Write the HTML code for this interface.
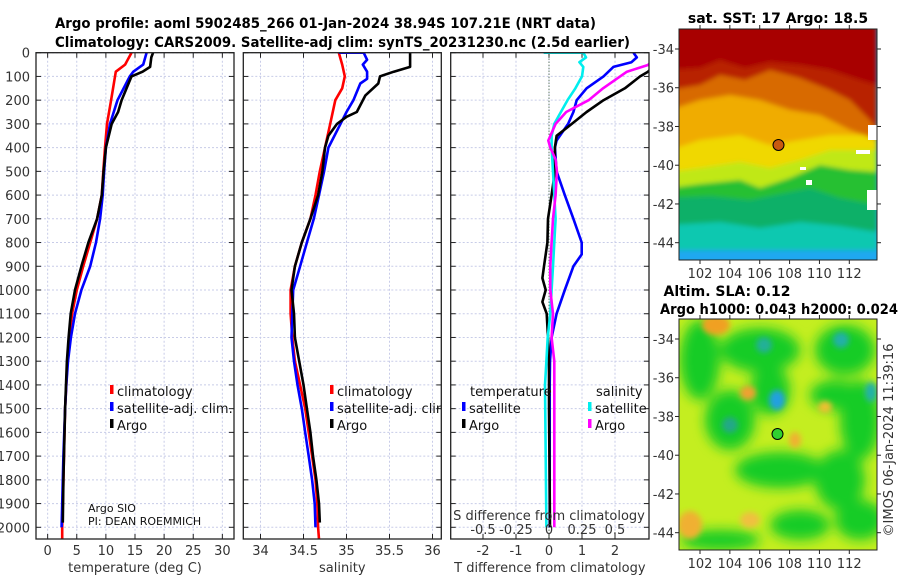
<!DOCTYPE html>
<html><head><meta charset="utf-8">
<style>
html,body{margin:0;padding:0;background:#fff;}
svg{display:block;font-family:"DejaVu Sans","Liberation Sans",sans-serif;}
.tk{font-size:13px;fill:#333;}
.lg{font-size:13px;fill:#111;}
.ttl{font-size:14px;font-weight:bold;fill:#000;}
</style></head>
<body>
<svg id="fig" width="900" height="580" viewBox="0 0 900 580" xmlns="http://www.w3.org/2000/svg">
<defs>
<clipPath id="c1"><rect x="36" y="52.7" width="198" height="486.3"/></clipPath>
<clipPath id="c2"><rect x="243.3" y="52.7" width="198" height="486.3"/></clipPath>
<clipPath id="c3"><rect x="450.7" y="52.7" width="198.3" height="486.3"/></clipPath>
<clipPath id="cm1"><rect x="679" y="29" width="198" height="231"/></clipPath>
<clipPath id="cm2"><rect x="679" y="319" width="198" height="231"/></clipPath>
<filter id="bl" x="-50%" y="-50%" width="200%" height="200%"><feGaussianBlur stdDeviation="6"/></filter>
<filter id="bl2" x="-50%" y="-50%" width="200%" height="200%"><feGaussianBlur stdDeviation="3"/></filter>
<filter id="bl3" x="-20%" y="-20%" width="140%" height="140%"><feGaussianBlur stdDeviation="2.5"/></filter>
</defs>

<text class="ttl" x="55" y="28" textLength="541" lengthAdjust="spacingAndGlyphs">Argo profile: aoml 5902485_266 01-Jan-2024 38.94S 107.21E (NRT data)</text>
<text class="ttl" x="55" y="47" textLength="575" lengthAdjust="spacingAndGlyphs">Climatology: CARS2009. Satellite-adj clim: synTS_20231230.nc (2.5d earlier)</text>

<g id="panels"></g>

<!-- SST map -->
<g>
<g clip-path="url(#cm1)">
<rect x="679" y="29" width="198" height="231" fill="#1fa8f0"/>
<g filter="url(#bl3)">
<path d="M670,250 L877,250 L877,20 L670,20Z" fill="#10c8b0"/>
<path d="M670,225 L720,222 L760,228 L800,222 L840,226 L877,232 L877,20 L670,20Z" fill="#10b068"/>
<path d="M670,198 L710,196 L750,200 L790,192 L810,188 L840,198 L877,205 L877,20 L670,20Z" fill="#28c030"/>
<path d="M670,188 L700,184 L740,180 L760,188 L790,178 L820,165 L850,170 L877,172 L877,20 L670,20Z" fill="#c0e818"/>
<path d="M670,172 L700,168 L740,162 L770,168 L800,160 L830,150 L860,150 L877,150 L877,20 L670,20Z" fill="#f0d800"/>
<path d="M670,150 L700,140 L740,135 L770,145 L800,140 L830,135 L860,135 L877,135 L877,20 L670,20Z" fill="#f0ac00"/>
<path d="M670,110 L700,100 L730,95 L760,100 L790,110 L820,115 L850,130 L877,140 L877,20 L670,20Z" fill="#d86a00"/>
<path d="M670,90 L700,85 L720,75 L745,80 L770,70 L800,78 L830,90 L850,100 L870,120 L877,130 L877,20 L670,20Z" fill="#b82000"/>
<path d="M670,70 L700,68 L720,60 L745,68 L770,62 L800,65 L830,70 L860,80 L877,85 L877,20 L670,20Z" fill="#a80000"/>
</g>
<rect x="868" y="125" width="9" height="15" fill="#fff"/>
<rect x="856" y="150" width="14" height="4" fill="#fff"/>
<rect x="867" y="190" width="10" height="20" fill="#fff"/>
<rect x="800" y="167" width="6" height="3" fill="#fff"/>
<rect x="806" y="180" width="6" height="5" fill="#fff"/>
</g>
<rect x="679" y="29" width="198" height="231" fill="none" stroke="#222" stroke-width="1"/>
<circle cx="778.5" cy="145" r="5.5" fill="#c85a10" stroke="#000" stroke-width="1"/>
</g>

<!-- SLA map -->
<g>
<g clip-path="url(#cm2)">
<rect x="679" y="319" width="198" height="231" fill="#c4ee20"/>
<g filter="url(#bl)" fill="#18cc28">
<ellipse cx="700" cy="360" rx="20" ry="40"/><ellipse cx="760" cy="350" rx="40" ry="22"/>
<ellipse cx="845" cy="350" rx="30" ry="25"/><ellipse cx="860" cy="420" rx="20" ry="40"/>
<ellipse cx="730" cy="420" rx="25" ry="30"/><ellipse cx="770" cy="390" rx="20" ry="25"/>
<ellipse cx="780" cy="470" rx="45" ry="18"/><ellipse cx="840" cy="480" rx="25" ry="30"/>
<ellipse cx="860" cy="520" rx="25" ry="20"/><ellipse cx="800" cy="525" rx="30" ry="15"/>
<ellipse cx="720" cy="540" rx="40" ry="10"/><ellipse cx="835" cy="395" rx="25" ry="15"/>
</g>
<g filter="url(#bl2)">
<ellipse cx="777" cy="400" rx="8" ry="10" fill="#20a0e0"/>
<ellipse cx="841" cy="340" rx="8" ry="8" fill="#20b0a8"/>
<ellipse cx="871" cy="392" rx="6" ry="10" fill="#20b0a8"/>
<ellipse cx="764" cy="345" rx="8" ry="8" fill="#20b098"/>
<ellipse cx="730" cy="425" rx="8" ry="8" fill="#20a888"/>
<ellipse cx="716" cy="325" rx="14" ry="10" fill="#f0a020"/>
<ellipse cx="748" cy="393" rx="8" ry="7" fill="#f0a030"/>
<ellipse cx="795" cy="440" rx="6" ry="8" fill="#f0b030"/>
<ellipse cx="825" cy="407" rx="7" ry="6" fill="#f0c030"/>
<ellipse cx="690" cy="525" rx="12" ry="14" fill="#f0b030"/>
<ellipse cx="750" cy="520" rx="10" ry="8" fill="#f0c040"/>
</g>
</g>
<rect x="679" y="319" width="198" height="231" fill="none" stroke="#222" stroke-width="1"/>
<circle cx="777.5" cy="434" r="5.5" fill="#30d030" stroke="#000" stroke-width="1"/>
</g>

<text class="ttl" x="778" y="23" text-anchor="middle">sat. SST: 17 Argo: 18.5</text>
<text class="ttl" x="727" y="296" text-anchor="middle">Altim. SLA: 0.12</text>
<text class="ttl" x="660" y="314" textLength="238" lengthAdjust="spacingAndGlyphs">Argo h1000: 0.043 h2000: 0.024</text>
<text class="tk" transform="translate(893,440) rotate(-90)" text-anchor="middle">©IMOS 06-Jan-2024 11:39:16</text>
<g id="mapaxes"></g>
</svg>

<script>
// ===== data (depth in dbar) =====
const tClimDepth = [0,50,80,200,300,400,500,600,700,800,900,1000,1100,1200,1300,1400,1500,1600,1800,2000,2050];
const tClimVal   = [14.4,13.3,11.7,10.9,10.2,9.85,9.55,9.3,8.5,7.3,6.1,5.0,4.2,3.7,3.4,3.2,3.0,2.9,2.7,2.5,2.5];
const tSatDepth  = [0,50,80,100,200,300,400,500,600,700,800,900,1000,1100,1200,1300,1400,1500,1700,2000];
const tSatVal    = [17.0,16.4,14.7,14.1,12.0,10.7,10.0,9.7,9.45,9.0,8.3,7.3,5.8,4.7,4.0,3.5,3.2,3.0,2.7,2.4];
const tArgoDepth = [0,20,60,80,100,200,250,300,400,500,600,700,800,900,1000,1100,1200,1300,1500,1800,1980];
const tArgoVal   = [18.1,17.8,17.6,16.3,14.4,12.7,12.1,11.0,10.0,9.6,9.3,8.5,7.0,5.8,4.7,3.96,3.6,3.3,3.0,2.7,2.6];

const sClimDepth = [0,50,100,150,200,300,400,500,600,700,800,900,1000,1100,1200,1300,1400,1500,1600,1700,1800,1900,2000,2050];
const sClimVal   = [34.91,34.95,34.98,34.95,34.87,34.81,34.75,34.69,34.64,34.58,34.48,34.40,34.35,34.35,34.37,34.40,34.46,34.52,34.56,34.60,34.64,34.66,34.67,34.68];
const sSatDepth  = [0,0,30,50,80,110,130,200,250,300,400,500,600,700,800,900,1000,1100,1200,1300,1400,1500,1600,1700,1800,1900,2000];
const sSatVal    = [34.91,35.20,35.24,35.19,35.24,35.24,35.16,35.08,35.0,34.93,34.79,34.74,34.68,34.62,34.54,34.46,34.38,34.37,34.36,34.39,34.43,34.48,34.52,34.56,34.60,34.63,34.64];
const sArgoDepth = [0,60,80,100,130,180,250,270,300,350,400,500,600,700,800,900,1000,1100,1200,1300,1400,1500,1600,1700,1800,1900,1980];
const sArgoVal   = [35.74,35.74,35.55,35.39,35.37,35.22,35.12,35.0,34.89,34.79,34.75,34.72,34.67,34.58,34.48,34.40,34.36,34.39,34.40,34.45,34.50,34.54,34.58,34.61,34.65,34.68,34.69];

const dtSatDepth  = [0,20,40,60,100,150,200,250,300,370,400,500,600,700,800,850,900,1000,1100,1200,1300,1400,2000];
const dtSatVal    = [2.56,2.66,2.5,1.95,1.65,1.14,0.84,0.74,0.58,0.23,0.18,0.23,0.48,0.74,0.99,0.99,0.74,0.48,0.23,0.08,0.03,0.02,0.02];
const dtArgoDepth = [0,80,100,150,200,250,300,350,400,500,600,700,800,900,950,1000,1050,1100,1200,1300,1500,2000];
const dtArgoVal   = [3.6,3.0,2.76,2.3,1.65,1.14,0.69,0.23,0.18,0.18,0.08,-0.03,-0.05,-0.15,-0.2,-0.1,-0.2,-0.07,-0.03,0.0,0.0,0.03];
const dsSatDepth  = [0,0,20,40,60,100,150,200,250,300,350,400,500,600,700,800,900,1000,1100,1200,1300,1400,2000];
const dsSatVal    = [-0.04,0.26,0.28,0.23,0.26,0.25,0.2,0.14,0.09,0.04,0.02,0.02,0.03,0.04,0.05,0.04,0.03,0.02,0.01,-0.01,-0.02,-0.03,-0.02];
const dsArgoDepth = [0,52,80,150,200,250,300,370,400,450,500,600,700,800,900,1000,1100,1200,1300,2000];
const dsArgoVal   = [0.85,0.75,0.59,0.41,0.30,0.13,0.05,-0.005,0.01,0.05,0.06,0.05,0.03,0.02,0.01,0.01,0.03,0.02,0.04,0.04];

const depthTicks = [0,100,200,300,400,500,600,700,800,900,1000,1100,1200,1300,1400,1500,1600,1700,1800,1900,2000];
const tTicks = [0,5,10,15,20,25,30];
const sTicks = [34,34.5,35,35.5,36];
const dTTicks = [-2,-1,0,1,2];
const dSTicks = [-0.5,-0.25,0,0.25,0.5];
const dSTickLabels = ["-0.5","-0.25","0","0.25","0.5"];
const latTicks = [-34,-36,-38,-40,-42,-44];
const lonTicks = [102,104,106,108,110,112];

// ===== scales =====
const Y0 = 52.7, YB = 539, PY = 0.2373;
const yD = d => Y0 + d*PY;
const P1 = {x0:36, w:198};
const P2 = {x0:243.3, w:198};
const P3 = {x0:450.7, w:198.3};
const xT = v => 36 + (v+2)*(198/34);
const xS = v => 243.3 + (v-33.8)*86;
const xdT = v => 549 + v*33;
const xdS = v => 549 + v*132;

const NS = "http://www.w3.org/2000/svg";
const root = document.getElementById('panels');
function mk(tag, attrs, parent){
  const e = document.createElementNS(NS, tag);
  for (const k in attrs) e.setAttribute(k, attrs[k]);
  (parent||root).appendChild(e);
  return e;
}
function panel(P, clip, xticks, xfn, xlabels, title, name, showY){
  const g = mk('g', {});
  
  
  xticks.forEach(v => {
    const x = xfn(v);
    const l = mk('line', {x1:x, x2:x, y1:Y0, y2:YB, stroke:'#c8cce8', 'stroke-width':1, 'stroke-dasharray':'2,2'}, g);
    
    
  });
  depthTicks.forEach(d => {
    const y = yD(d);
    const l = mk('line', {x1:P.x0, x2:P.x0+P.w, y1:y, y2:y, stroke:'#c8cce8', 'stroke-width':1, 'stroke-dasharray':'2,2'}, g);
    
    
    mk('line', {x1:P.x0, x2:P.x0+5, y1:y, y2:y, stroke:'#222', 'stroke-width':1}, g);
    mk('line', {x1:P.x0+P.w-5, x2:P.x0+P.w, y1:y, y2:y, stroke:'#222', 'stroke-width':1}, g);
    if (showY){
      const t = mk('text', {x:30, y:y+5, 'text-anchor':'end', class:'tk'}, g);
      t.textContent = d;
      
      
    }
  });
  xticks.forEach((v,i) => {
    const x = xfn(v);
    mk('line', {x1:x, x2:x, y1:YB, y2:YB-5, stroke:'#222', 'stroke-width':1}, g);
    mk('line', {x1:x, x2:x, y1:Y0, y2:Y0+5, stroke:'#222', 'stroke-width':1}, g);
    const t = mk('text', {x:x, y:555, 'text-anchor':'middle', class:'tk'}, g);
    t.textContent = xlabels[i];
    
    
  });
  const tt = mk('text', {x:P.x0+P.w/2, y:572, 'text-anchor':'middle', class:'tk'}, g);
  tt.textContent = title;
  
  
  return g;
}
function frame(P, g){
  mk('rect', {x:P.x0, y:Y0, width:P.w, height:YB-Y0, fill:'none', stroke:'#222', 'stroke-width':1.3}, g);
}
function line(depths, vals, xfn, color, clip, g, name){
  const pts = depths.map((d,i) => xfn(vals[i]).toFixed(1)+','+yD(d).toFixed(1)).join(' ');
  const p = mk('polyline', {points:pts, fill:'none', stroke:color, 'stroke-width':2.6, 'stroke-linejoin':'round', 'clip-path':'url(#'+clip+')'}, g);
  
  
}
function legendItem(x, y, color, label, g, name){
  const r = mk('rect', {x:x, y:y-11, width:3.5, height:9, fill:color}, g);
  const t = mk('text', {x:x+7, y:y, class:'lg'}, g);
  t.textContent = label;
  
  
  
  
}

// Panel 1
const g1 = panel(P1, 'c1', tTicks, xT, tTicks.map(String), 'temperature (deg C)', 'temperature-panel', true);
line(tClimDepth, tClimVal, xT, '#ff0000', 'c1', g1, 'temp-climatology-line');
line(tSatDepth, tSatVal, xT, '#0000ff', 'c1', g1, 'temp-satellite-line');
line(tArgoDepth, tArgoVal, xT, '#000000', 'c1', g1, 'temp-argo-line');
legendItem(110, 396, '#ff0000', 'climatology', g1, 'legend-climatology');
legendItem(110, 413, '#0000ff', 'satellite-adj. clim.', g1, 'legend-satellite');
legendItem(110, 430, '#000000', 'Argo', g1, 'legend-argo');
const a1 = mk('text', {x:88, y:512, style:'font-size:11px', fill:'#111'}, g1);
a1.textContent = 'Argo SIO';


const a2 = mk('text', {x:88, y:525, style:'font-size:11px', fill:'#111'}, g1);
a2.textContent = 'PI: DEAN ROEMMICH';


frame(P1, g1);

// Panel 2
const g2 = panel(P2, 'c2', sTicks, xS, ['34','34.5','35','35.5','36'], 'salinity', 'salinity-panel', false);
line(sClimDepth, sClimVal, xS, '#ff0000', 'c2', g2, 'sal-climatology-line');
line(sSatDepth, sSatVal, xS, '#0000ff', 'c2', g2, 'sal-satellite-line');
line(sArgoDepth, sArgoVal, xS, '#000000', 'c2', g2, 'sal-argo-line');
const lg2 = mk('g', {'clip-path':'url(#c2)'}, g2);
legendItem(330, 396, '#ff0000', 'climatology', lg2, 'legend-climatology-2');
legendItem(330, 413, '#0000ff', 'satellite-adj. clim.', lg2, 'legend-satellite-2');
legendItem(330, 430, '#000000', 'Argo', lg2, 'legend-argo-2');
frame(P2, g2);

// Panel 3
const g3 = panel(P3, 'c3', dTTicks, xdT, dTTicks.map(String), 'T difference from climatology', 'difference-panel', false);
const zl = mk('line', {x1:549, x2:549, y1:Y0, y2:YB, stroke:'#335533', 'stroke-width':1, 'stroke-dasharray':'1,2'}, g3);


line(dtSatDepth, dtSatVal, xdT, '#0000ff', 'c3', g3, 'dT-satellite-line');
line(dtArgoDepth, dtArgoVal, xdT, '#000000', 'c3', g3, 'dT-argo-line');
line(dsSatDepth, dsSatVal, xdS, '#00eeee', 'c3', g3, 'dS-satellite-line');
line(dsArgoDepth, dsArgoVal, xdS, '#ff00ff', 'c3', g3, 'dS-argo-line');
const h1 = mk('text', {x:470, y:396, class:'lg'}, g3); h1.textContent = 'temperature';


const h2 = mk('text', {x:596, y:396, class:'lg'}, g3); h2.textContent = 'salinity';


legendItem(462, 413, '#0000ff', 'satellite', g3, 'legend-dT-satellite');
legendItem(462, 430, '#000000', 'Argo', g3, 'legend-dT-argo');
legendItem(588, 413, '#00eeee', 'satellite', g3, 'legend-dS-satellite');
legendItem(588, 430, '#ff00ff', 'Argo', g3, 'legend-dS-argo');
const st = mk('text', {x:549, y:520, 'text-anchor':'middle', class:'tk', fill:'#111'}, g3);
st.textContent = 'S difference from climatology';


dSTicks.forEach((v,i) => {
  const t = mk('text', {x:xdS(v), y:534, 'text-anchor':'middle', class:'tk'}, g3);
  t.textContent = dSTickLabels[i];
  
  
});
frame(P3, g3);

// Map axes
const ma = document.getElementById('mapaxes');
function mapAxes(top, latY0, name){
  const g = mk('g', {}, ma);
  
  
  const lonX = v => 700 + (v-102)*14.93;
  const latY = v => latY0 + (-34 - v)*19.37;
  latTicks.forEach(v => {
    const y = latY(v);
    mk('line', {x1:877, x2:881, y1:y, y2:y, stroke:'#222'}, g);
    mk('line', {x1:679, x2:675, y1:y, y2:y, stroke:'#222'}, g);
    const t = mk('text', {x:674, y:y+5, 'text-anchor':'end', class:'tk'}, g);
    t.textContent = v;
    
    
  });
  lonTicks.forEach(v => {
    const x = lonX(v);
    mk('line', {x1:x, x2:x, y1:top+231, y2:top+235, stroke:'#222'}, g);
    mk('line', {x1:x, x2:x, y1:top, y2:top-4, stroke:'#222'}, g);
    const t = mk('text', {x:x, y:top+249, 'text-anchor':'middle', class:'tk'}, g);
    t.textContent = v;
    
    
  });
}
mapAxes(29, 49, 'sst-map-axes');
mapAxes(319, 339, 'sla-map-axes');
</script>
</body></html>
